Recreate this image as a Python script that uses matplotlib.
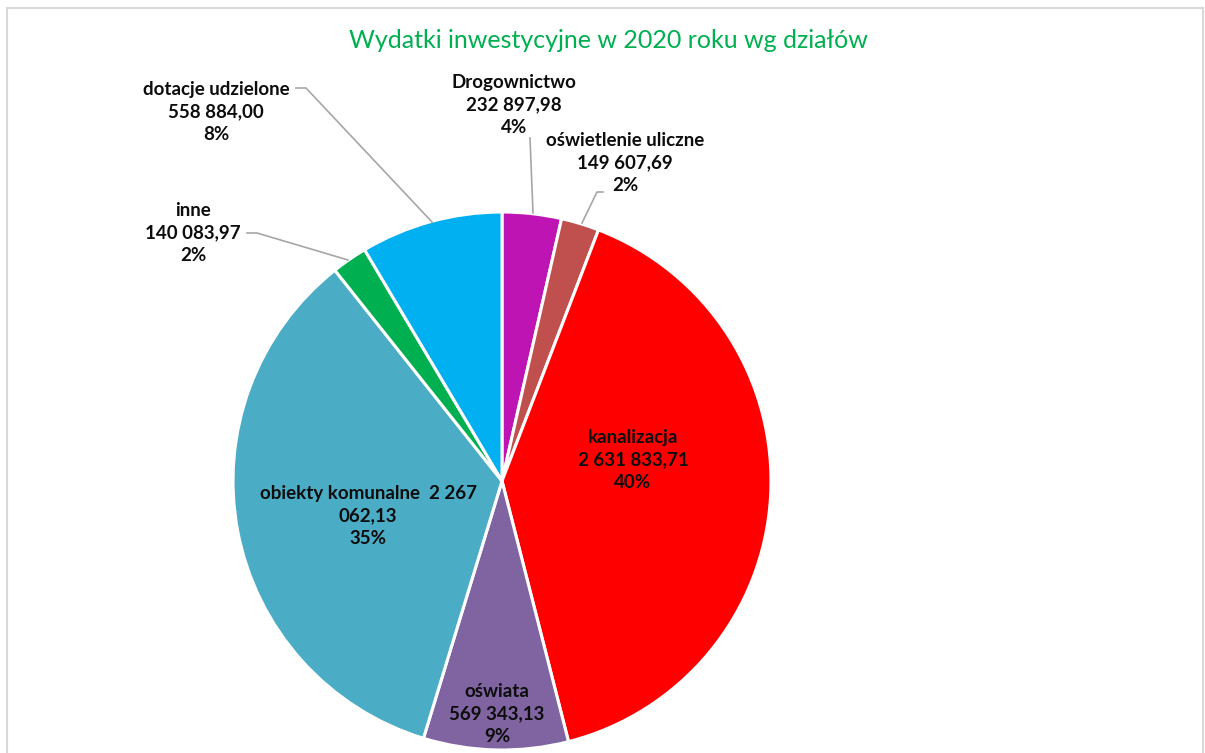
import matplotlib
matplotlib.use("Agg")
import matplotlib.pyplot as plt
from matplotlib.patches import Rectangle

# data, clockwise from 12 o'clock
categories = ["Drogownictwo", "oświetlenie uliczne", "kanalizacja", "oświata",
              "obiekty komunalne", "inne", "dotacje udzielone"]
values = [232897.98, 149607.69, 2631833.71, 569343.13, 2267062.13, 140083.97, 558884.00]
value_labels = ["232 897,98", "149 607,69", "2 631 833,71", "569 343,13",
                "2 267\n062,13", "140 083,97", "558 884,00"]
pct_labels = ["4%", "2%", "40%", "9%", "35%", "2%", "8%"]
colors = ["#BE14B4", "#C0504D", "#FF0000", "#8064A2", "#4BACC6", "#00B050", "#00B0F0"]

W, H = 1205, 753
CX, CY, R = 502, 481, 269

plt.rcParams["font.family"] = ["Lato", "DejaVu Sans"]

fig = plt.figure(figsize=(W / 100, H / 100), dpi=100)
fig.patches.append(Rectangle((7 / W, -0.1), (1203 - 7) / W, (H - 8) / H + 0.1,
                             transform=fig.transFigure, fill=False,
                             edgecolor="#D9D9D9", linewidth=1.5))

ax = fig.add_axes([(CX - R) / W, (H - CY - R) / H, 2 * R / W, 2 * R / H])
ax.pie(values, colors=colors, startangle=90, counterclock=False, radius=1,
       wedgeprops=dict(edgecolor="white", linewidth=2.2))
ax.set_xlim(-1, 1)
ax.set_ylim(-1, 1)
ax.set_aspect("auto")
ax.axis("off")


def px(x, y):
    # pixel coords -> data coords of the pie axes
    return (x - CX) / R, (CY - y) / R


# label centres in pixels
label_pos = [(514, 105), (625, 163), (633, 460), (497, 714), (368, 516), (193, 233), (216, 112)]
for i, name in enumerate(categories):
    if name == "obiekty komunalne":
        txt = f"{name}  {value_labels[i]}\n{pct_labels[i]}"
    else:
        txt = f"{name}\n{value_labels[i]}\n{pct_labels[i]}"
    x, y = px(*label_pos[i])
    ax.text(x, y, txt, ha="center", va="center", fontsize=13.5, fontweight="bold",
            color="#0D0D0D", linespacing=1.38, clip_on=False)

# leader lines (pixel polylines)
leaders = [
    [(530, 138), (533, 213)],
    [(603, 192), (597, 192), (582, 223)],
    [(247, 233), (257, 233), (348, 260)],
    [(296, 88), (306, 88), (432, 222)],
]
for pts in leaders:
    xs, ys = zip(*[px(a, b) for a, b in pts])
    ax.plot(xs, ys, color="#A6A6A6", linewidth=1.2, clip_on=False)

fig.text(608 / W, 1 - 40 / H, "Wydatki inwestycyjne w 2020 roku wg działów",
         ha="center", va="center", fontsize=18, color="#00B050")

fig.savefig("out.png", dpi=100)
